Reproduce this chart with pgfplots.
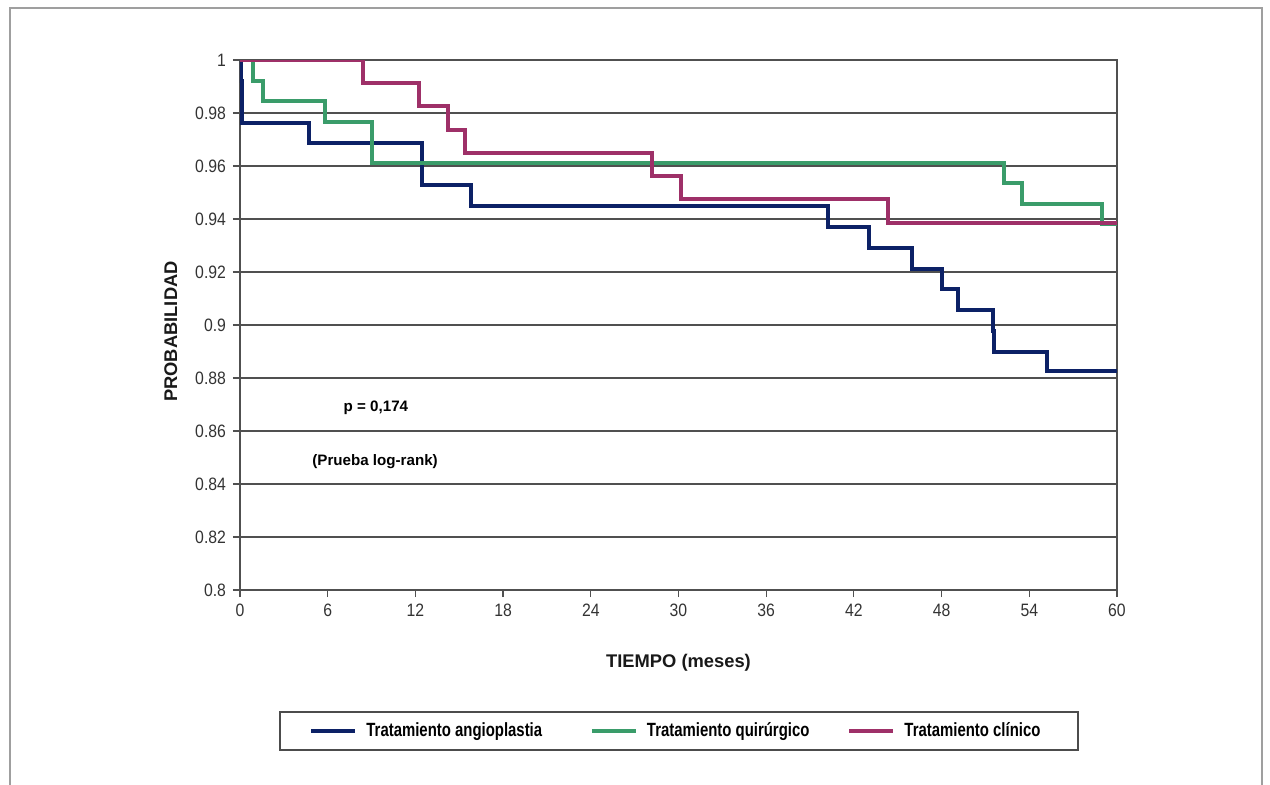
\documentclass[border=0pt]{standalone}
\usepackage{fontspec}
\setmainfont{Liberation Sans}
\newfontfamily\narrowfont{Liberation Sans}[FakeStretch=0.78]
\newfontfamily\tickfont{Liberation Sans}[FakeStretch=0.88]
\usepackage{pgfplots}
\pgfplotsset{compat=1.18}
\definecolor{cblue}{RGB}{12,33,102}
\definecolor{cgreen}{RGB}{58,156,106}
\definecolor{cmag}{RGB}{158,48,104}
\definecolor{gridc}{RGB}{80,80,80}
\begin{document}
\begin{tikzpicture}
\useasboundingbox (-120bp,-97.5bp) rectangle (515bp,295bp);
\draw[gray!75, line width=0.8bp] (-115bp,-97.5bp) -- (-115bp,291bp) -- (511bp,291bp) -- (511bp,-97.5bp);
\begin{axis}[
  scale only axis, width=438.5bp, height=265bp,
  xmin=0, xmax=60, ymin=0.8, ymax=1,
  xtick={0,6,...,60},
  ytick={0.8,0.82,0.84,0.86,0.88,0.9,0.92,0.94,0.96,0.98,1},
  ymajorgrids, grid style={gridc, line width=0.6bp},
  axis line style={gridc, line width=0.6bp},
  tick style={gridc, line width=0.6bp},
  tick align=outside, major tick length=3.5bp,
  xtick pos=bottom, ytick pos=left,
  /pgf/number format/assume math mode=true,
  ticklabel style={font=\tickfont\fontsize{9}{10}\selectfont, text=black!80},
  yticklabel style={/pgf/number format/.cd, fixed, precision=2},
  xlabel={TIEMPO (meses)}, ylabel={PROBABILIDAD},
  label style={font=\bfseries\fontsize{9.2}{11}\selectfont, text=black!90},
  xlabel style={at={(axis description cs:0.5,-0.1453)}, anchor=base},
  ylabel style={at={(axis description cs:-0.0718,0.4877)}, anchor=base},
  legend columns=3,
  legend cell align=left,
  legend image code/.code={\draw[#1] (0bp,0bp) -- (22bp,0bp);},
  legend style={draw=none, fill=none, inner sep=0pt, nodes={inner sep=0pt},
    at={(axis description cs:0.0787,-0.266)}, anchor=west,
    font=\narrowfont\bfseries\fontsize{9.6}{11}\selectfont,
    /tikz/column 1/.style={column sep=4.5bp},
    /tikz/column 2/.style={column sep=23.9bp},
    /tikz/column 3/.style={column sep=4.5bp},
    /tikz/column 4/.style={column sep=19bp},
    /tikz/column 5/.style={column sep=4.5bp}},
]
\addplot[cblue, line width=2bp, const plot] coordinates {
  (0,1) (0.08,0.9921) (0.15,0.9764) (4.7,0.9685) (12.45,0.9528) (15.8,0.9449)
  (40.2,0.9370) (43.0,0.9291) (46.0,0.9213) (48.0,0.9134) (49.1,0.9055)
  (51.5,0.8976) (51.6,0.8898) (55.2,0.8825) (60,0.8825)};
\addplot[cgreen, line width=2bp, const plot] coordinates {
  (0,1) (0.9,0.9922) (1.6,0.9845) (5.8,0.9767) (9.0,0.9612) (52.3,0.9535)
  (53.5,0.9457) (59.0,0.938) (60,0.938)};
\addplot[cmag, line width=2bp, const plot] coordinates {
  (0,1) (8.4,0.9912) (12.25,0.9825) (14.2,0.9737) (15.4,0.9649) (28.2,0.9561)
  (30.2,0.9474) (44.3,0.9386) (60,0.9386)};
\legend{Tratamiento angioplastia, Tratamiento quirúrgico, Tratamiento clínico}
\node[font=\bfseries\fontsize{7.6}{9}\selectfont, anchor=base] at (axis cs:9.3,0.8672) {p = 0,174};
\node[font=\bfseries\fontsize{7.6}{9}\selectfont, anchor=base] at (axis cs:9.24,0.8468) {(Prueba log-rank)};
\end{axis}
\draw[gray!60!black, line width=1bp] (20bp,-61bp) rectangle (419bp,-80bp);
\end{tikzpicture}
\end{document}
